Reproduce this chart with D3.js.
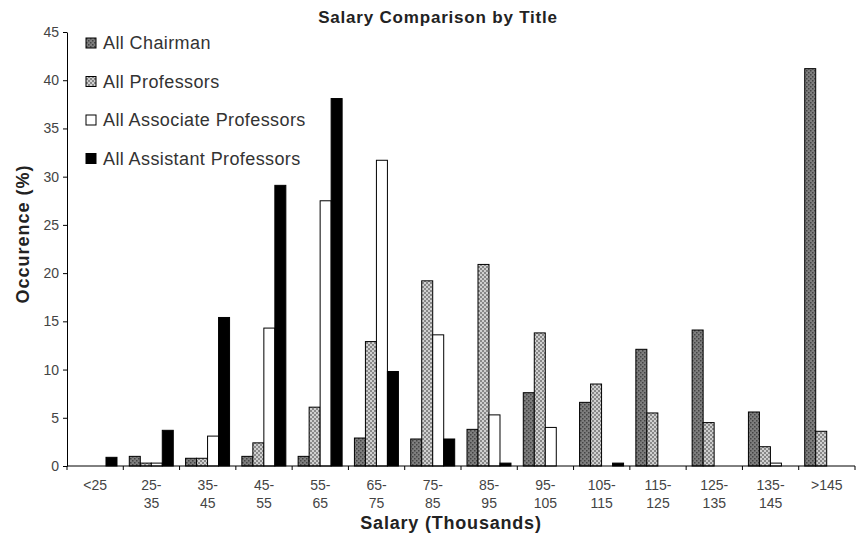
<!DOCTYPE html>
<html><head><meta charset="utf-8">
<script src="https://cdn.jsdelivr.net/npm/d3@7"></script>
<style>body{margin:0;background:#fff}svg{display:block;font-family:"Liberation Sans",Arial,sans-serif}</style>
</head><body><svg id="c" width="857" height="541"></svg>
<script>
const categories = ["<25","25-35","35-45","45-55","55-65","65-75","75-85","85-95","95-105","105-115","115-125","125-135","135-145",">145"];
const seriesNames = ["All Chairman","All Professors","All Associate Professors","All Assistant Professors"];
const chairman   = [0, 1.0, 0.8, 1.0, 1.0, 2.9, 2.8, 3.8, 7.6, 6.6, 12.1, 14.1, 5.6, 41.2];
const professors = [0, 0.3, 0.8, 2.4, 6.1, 12.9, 19.2, 20.9, 13.8, 8.5, 5.5, 4.5, 2.0, 3.6];
const associate  = [0, 0.3, 3.1, 14.3, 27.5, 31.7, 13.6, 5.3, 4.0, 0, 0, 0, 0.3, 0];
const assistant  = [0.9, 3.7, 15.4, 29.1, 38.1, 9.8, 2.8, 0.3, 0, 0.3, 0, 0, 0, 0];
const yTicks = [0,5,10,15,20,25,30,35,40,45];

const series = [chairman, professors, associate, assistant];
const fills = ["url(#patChair)","url(#patProf)","#fff","#000"];

const svg = d3.select("#c");
const defs = svg.append("defs");
const p1 = defs.append("pattern").attr("id","patChair").attr("width",4).attr("height",4).attr("patternUnits","userSpaceOnUse");
p1.append("rect").attr("width",4).attr("height",4).attr("fill","#7e7e7e");
p1.append("rect").attr("x",0).attr("y",0).attr("width",1.5).attr("height",1.5).attr("fill","#444");
p1.append("rect").attr("x",2).attr("y",2).attr("width",1.5).attr("height",1.5).attr("fill","#444");
const p2 = defs.append("pattern").attr("id","patProf").attr("width",4).attr("height",4).attr("patternUnits","userSpaceOnUse");
p2.append("rect").attr("width",4).attr("height",4).attr("fill","#d0d0d0");
p2.append("rect").attr("x",0).attr("y",0).attr("width",2).attr("height",2).attr("fill","#888");
p2.append("rect").attr("x",2).attr("y",2).attr("width",2).attr("height",2).attr("fill","#888");

const x0 = d3.scaleBand().domain(categories).range([67, 855]).padding(0);
const x1 = d3.scaleBand().domain(d3.range(4)).range([6, x0.bandwidth()-6.3]).padding(0);
const y = d3.scaleLinear().domain([0,45]).range([466, 32]);

const g = svg.append("g");
categories.forEach((c, i) => {
  series.forEach((s, k) => {
    const v = s[i];
    if (v <= 0) return;
    g.append("rect")
      .attr("x", x0(c) + x1(k))
      .attr("y", y(v))
      .attr("width", x1.bandwidth())
      .attr("height", y(0) - y(v))
      .attr("fill", fills[k])
      .attr("stroke", "#000")
      .attr("stroke-width", 1);
  });
});

const yAxis = svg.append("g").attr("transform","translate(67,0)")
  .call(d3.axisLeft(y).tickValues(yTicks).tickSize(4).tickSizeOuter(0));
yAxis.select(".domain").attr("stroke","#000");
yAxis.selectAll(".tick line").attr("stroke","#000");
yAxis.selectAll(".tick text").attr("font-size",14).attr("fill","#444").attr("x",-8).attr("font-family","Liberation Sans, Arial, sans-serif");

svg.append("line").attr("x1",67).attr("x2",855).attr("y1",y(0)).attr("y2",y(0)).attr("stroke","#000");
const bounds = categories.map(c => x0(c)).concat([x0.range()[1]]);
svg.selectAll(".xt").data(bounds).enter().append("line")
  .attr("x1",d=>d).attr("x2",d=>d).attr("y1",y(0)).attr("y2",y(0)+4).attr("stroke","#000");

categories.forEach(c => {
  const cx = x0(c) + x0.bandwidth()/2;
  const parts = c.includes("-") ? [c.split("-")[0]+"-", c.split("-")[1]] : [c];
  const t = svg.append("text").attr("x",cx).attr("y",490).attr("text-anchor","middle")
    .attr("font-size",14).attr("fill","#444");
  parts.forEach((p,j)=> t.append("tspan").attr("x",cx).attr("dy", j===0?0:18).text(p));
});

svg.append("text").attr("x",438).attr("y",23).attr("text-anchor","middle")
  .attr("font-size",17).attr("font-weight","bold").attr("letter-spacing",0.8).attr("fill","#222").text("Salary Comparison by Title");
svg.append("text").attr("x",451).attr("y",529).attr("text-anchor","middle")
  .attr("font-size",18).attr("font-weight","bold").attr("letter-spacing",0.8).attr("fill","#222").text("Salary (Thousands)");
svg.append("text").attr("transform","translate(29,234) rotate(-90)").attr("text-anchor","middle")
  .attr("font-size",18).attr("font-weight","bold").attr("letter-spacing",1).attr("fill","#222").text("Occurence (%)");

const lg = svg.append("g");
seriesNames.forEach((n,k)=>{
  const yy = 43 + k*38.5;
  lg.append("rect").attr("x",86).attr("y",yy-5).attr("width",10).attr("height",10)
    .attr("fill",fills[k]).attr("stroke","#000").attr("stroke-width",1);
  lg.append("text").attr("x",103).attr("y",yy+6).attr("font-size",18).attr("letter-spacing",0.4).attr("fill","#333").text(n);
});
</script></body></html>
